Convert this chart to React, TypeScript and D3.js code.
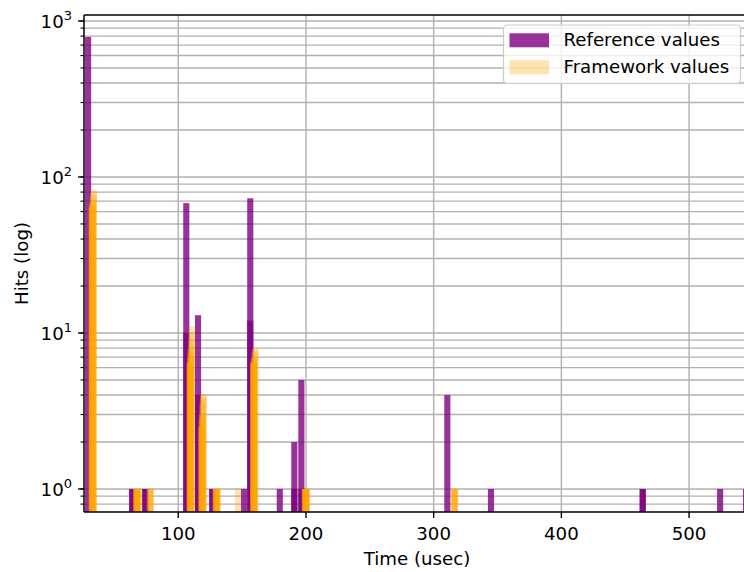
import React from "react";
import * as d3 from "d3";

// ---- Data ----
// Reference values: histogram bins (usec start) and hit counts, two overlapping runs
const refBinStarts = [27, 61.6, 71.8, 103.9, 113.1, 124.3, 149.1, 154.0, 177.1, 188.5, 194.0, 308.3, 342.5, 461.3, 521.9, 542.2];
const refRunA = [790, 1, 1, 68, 13, 1, 1, 73, 1, 2, 5, 4, 1, 1, 1, 1];
const refRunB = [0, 1, 1, 10, 4, 1, 0, 12, 0, 1, 1, 0, 0, 1, 0, 0];
const refBinWidth = 4.8;

// Framework values: several runs with slightly shifted bins
const fwBinStarts = [30.1, 65.0, 74.7, 106.8, 116.0, 127.0, 143.0, 156.5, 197.0, 313.0];
const fwRun1 = [83, 1, 1, 11, 4, 1, 1, 8, 1, 1];
const fwRun2 = [80, 1, 1, 10, 4, 1, 0, 7.8, 1, 1];
const fwRun3 = [76, 1, 1, 9, 3.8, 1, 0, 7.5, 1, 1];
const fwRun4 = [72, 1, 1, 8, 3.5, 1, 0, 7, 1, 1];
const fwRun5 = [68, 1, 0, 7.5, 3, 1, 0, 6.8, 1, 1];
const fwRun6 = [66, 1, 0, 7, 3, 1, 0, 6.6, 1, 0];
const fwRun7 = [65, 1, 0, 6.6, 2.8, 1, 0, 6.4, 1, 0];
const fwRun8 = [64, 1, 0, 6.4, 2.5, 1, 0, 6.4, 1, 0];
const fwRun9 = [64, 1, 0, 6.4, 2.5, 0, 0, 6.4, 1, 0];
const fwRun10 = [64, 1, 0, 6.4, 2.5, 0, 0, 6.4, 1, 0];
const fwRunShifts = [1.4, 1.1, 0.8, 0.5, 0.3, 0.1, 0, -0.1, -0.2, -0.3];
const fwBinWidth = 5.0;

const xTicks = [100, 200, 300, 400, 500];
const yMajor = [1, 10, 100, 1000];
const legendLabels = ["Reference values", "Framework values"];

const W = 744, H = 572;
const left = 84, top = 15, right = 750, bottom = 512;
const FONT = "DejaVu Sans, sans-serif";
const FS = 18.2;

export default function App() {
  const x = d3.scaleLinear().domain([26.2, 547.7]).range([left, right]);
  const y = d3.scaleLog().domain([0.712, 1092]).range([bottom, top]);

  const minorVals: number[] = [];
  [0.1, 1, 10, 100].forEach((dec) => {
    for (let k = 1; k <= 9; k++) {
      const v = dec * k;
      if (v >= 0.712 && v <= 1092) minorVals.push(v);
    }
  });
  minorVals.push(1000);

  const refRuns = [refRunA, refRunB];
  const fwRuns = [fwRun1, fwRun2, fwRun3, fwRun4, fwRun5, fwRun6, fwRun7, fwRun8, fwRun9, fwRun10];

  return (
    <svg width={W} height={H} style={{ position: "absolute", left: 0, top: 0, background: "#fff" }} fontFamily={FONT}>
      <defs>
        <clipPath id="plot">
          <rect x={left} y={top} width={W - left} height={bottom - top} />
        </clipPath>
      </defs>
      <rect x={0} y={0} width={W} height={H} fill="#fff" />
      <g clipPath="url(#plot)">
        {minorVals.map((v, i) => (
          <line key={"gy" + i} x1={left} x2={W} y1={y(v)} y2={y(v)} stroke="#b0b0b0" strokeWidth={1.4} />
        ))}
        {xTicks.map((t) => (
          <line key={"gx" + t} x1={x(t)} x2={x(t)} y1={top} y2={bottom} stroke="#b0b0b0" strokeWidth={1.4} />
        ))}
        {refRuns.map((run, ri) =>
          run.map((c, i) =>
            c > 0 ? (
              <rect
                key={"r" + ri + "-" + i}
                x={x(refBinStarts[i])}
                width={x(refBinStarts[i] + refBinWidth) - x(refBinStarts[i])}
                y={y(c)}
                height={bottom + 2 - y(c)}
                fill="#800080"
                fillOpacity={0.8}
              />
            ) : null
          )
        )}
        {fwRuns.map((run, ri) =>
          run.map((c, i) =>
            c > 0 ? (
              <rect
                key={"f" + ri + "-" + i}
                x={x(fwBinStarts[i] + fwRunShifts[ri])}
                width={x(fwBinStarts[i] + fwBinWidth) - x(fwBinStarts[i])}
                y={y(c)}
                height={bottom + 2 - y(c)}
                fill="#FFA500"
                fillOpacity={0.3}
              />
            ) : null
          )
        )}
      </g>
      {/* spines */}
      <line x1={left} x2={left} y1={top} y2={bottom} stroke="#000" strokeWidth={1.5} />
      <line x1={left} x2={W} y1={bottom} y2={bottom} stroke="#000" strokeWidth={1.5} />
      <line x1={left} x2={W} y1={top} y2={top} stroke="#000" strokeWidth={1.5} />
      {/* x ticks */}
      {xTicks.map((t) => (
        <g key={"xt" + t}>
          <line x1={x(t)} x2={x(t)} y1={bottom} y2={bottom + 6} stroke="#000" strokeWidth={1.4} />
          <text x={x(t)} y={540} textAnchor="middle" fontSize={FS} fill="#000">{t}</text>
        </g>
      ))}
      {/* y ticks */}
      {minorVals.map((v, i) => (
        <line key={"ym" + i} x1={left - 3.5} x2={left} y1={y(v)} y2={y(v)} stroke="#000" strokeWidth={1.1} />
      ))}
      {yMajor.map((v) => (
        <g key={"yt" + v}>
          <line x1={left - 6} x2={left} y1={y(v)} y2={y(v)} stroke="#000" strokeWidth={1.4} />
          <text x={72} y={y(v) + 7} textAnchor="end" fontSize={FS} fill="#000">
            10
            <tspan fontSize={13} dy={-8}>{Math.round(Math.log10(v))}</tspan>
          </text>
        </g>
      ))}
      {/* axis labels */}
      <text x={(left + right) / 2} y={565} textAnchor="middle" fontSize={FS} fill="#000">Time (usec)</text>
      <text transform={`translate(28, ${(top + bottom) / 2}) rotate(-90)`} textAnchor="middle" fontSize={FS} fill="#000">Hits (log)</text>
      {/* legend */}
      <rect x={503.5} y={25} width={237} height={58.5} rx={4} fill="#fff" fillOpacity={0.8} stroke="#cccccc" strokeWidth={1.2} />
      <rect x={509.5} y={33.3} width={39.5} height={14} fill="#800080" fillOpacity={0.8} />
      <text x={563.5} y={46.3} fontSize={FS} fill="#000">{legendLabels[0]}</text>
      <rect x={509.5} y={60.2} width={39.5} height={14} fill="#FFA500" fillOpacity={0.3} />
      <text x={563.5} y={73.2} fontSize={FS} fill="#000">{legendLabels[1]}</text>
    </svg>
  );
}
